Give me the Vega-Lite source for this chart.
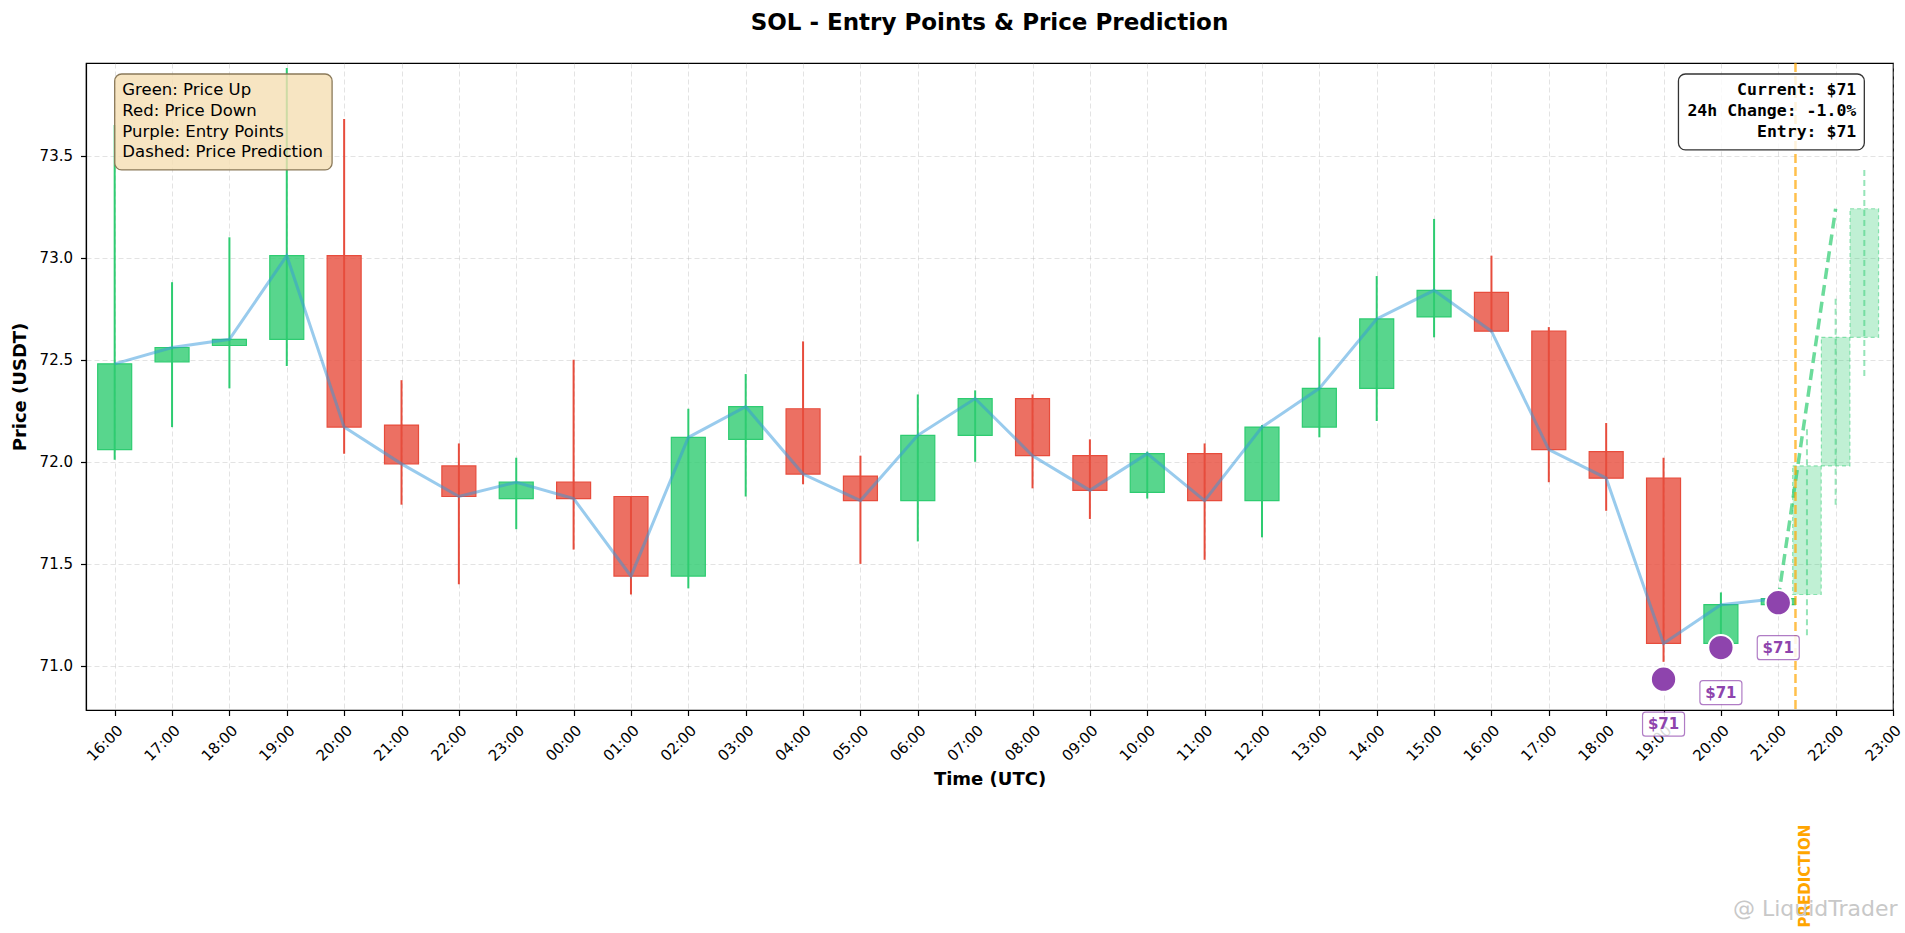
{
  "$schema": "https://vega.github.io/schema/vega-lite/v6.json",
  "description": "SOL hourly candles with entry points and a short price prediction",
  "background": "white",
  "autosize": {"type": "none"},
  "width": 1807,
  "height": 647,
  "padding": {"left": 86, "top": 63, "right": 12, "bottom": 223},
  "title": {
    "text": "SOL - Entry Points & Price Prediction",
    "fontSize": 23,
    "fontWeight": "bold",
    "font": "DejaVu Sans",
    "color": "#000",
    "anchor": "middle",
    "offset": 27
  },
  "datasets": {
    "candles": [
      {"t": 0, "open": 72.06, "high": 73.65, "low": 72.01, "close": 72.48, "dir": "up"},
      {"t": 1, "open": 72.49, "high": 72.88, "low": 72.17, "close": 72.56, "dir": "up"},
      {"t": 2, "open": 72.57, "high": 73.10, "low": 72.36, "close": 72.60, "dir": "up"},
      {"t": 3, "open": 72.60, "high": 73.93, "low": 72.47, "close": 73.01, "dir": "up"},
      {"t": 4, "open": 73.01, "high": 73.68, "low": 72.04, "close": 72.17, "dir": "down"},
      {"t": 5, "open": 72.18, "high": 72.40, "low": 71.79, "close": 71.99, "dir": "down"},
      {"t": 6, "open": 71.98, "high": 72.09, "low": 71.40, "close": 71.83, "dir": "down"},
      {"t": 7, "open": 71.82, "high": 72.02, "low": 71.67, "close": 71.90, "dir": "up"},
      {"t": 8, "open": 71.90, "high": 72.50, "low": 71.57, "close": 71.82, "dir": "down"},
      {"t": 9, "open": 71.83, "high": 71.83, "low": 71.35, "close": 71.44, "dir": "down"},
      {"t": 10, "open": 71.44, "high": 72.26, "low": 71.38, "close": 72.12, "dir": "up"},
      {"t": 11, "open": 72.11, "high": 72.43, "low": 71.83, "close": 72.27, "dir": "up"},
      {"t": 12, "open": 72.26, "high": 72.59, "low": 71.89, "close": 71.94, "dir": "down"},
      {"t": 13, "open": 71.93, "high": 72.03, "low": 71.50, "close": 71.81, "dir": "down"},
      {"t": 14, "open": 71.81, "high": 72.33, "low": 71.61, "close": 72.13, "dir": "up"},
      {"t": 15, "open": 72.13, "high": 72.35, "low": 72.00, "close": 72.31, "dir": "up"},
      {"t": 16, "open": 72.31, "high": 72.33, "low": 71.87, "close": 72.03, "dir": "down"},
      {"t": 17, "open": 72.03, "high": 72.11, "low": 71.72, "close": 71.86, "dir": "down"},
      {"t": 18, "open": 71.85, "high": 72.05, "low": 71.82, "close": 72.04, "dir": "up"},
      {"t": 19, "open": 72.04, "high": 72.09, "low": 71.52, "close": 71.81, "dir": "down"},
      {"t": 20, "open": 71.81, "high": 72.18, "low": 71.63, "close": 72.17, "dir": "up"},
      {"t": 21, "open": 72.17, "high": 72.61, "low": 72.12, "close": 72.36, "dir": "up"},
      {"t": 22, "open": 72.36, "high": 72.91, "low": 72.20, "close": 72.70, "dir": "up"},
      {"t": 23, "open": 72.71, "high": 73.19, "low": 72.61, "close": 72.84, "dir": "up"},
      {"t": 24, "open": 72.83, "high": 73.01, "low": 72.635, "close": 72.64, "dir": "down"},
      {"t": 25, "open": 72.64, "high": 72.66, "low": 71.90, "close": 72.06, "dir": "down"},
      {"t": 26, "open": 72.05, "high": 72.19, "low": 71.76, "close": 71.92, "dir": "down"},
      {"t": 27, "open": 71.92, "high": 72.02, "low": 71.02, "close": 71.11, "dir": "down"},
      {"t": 28, "open": 71.11, "high": 71.36, "low": 71.10, "close": 71.30, "dir": "up"},
      {"t": 29, "open": 71.30, "high": 71.34, "low": 71.29, "close": 71.33, "dir": "up"}
    ],
    "forecast": [
      {"t": 29.5, "open": 71.35, "high": 72.16, "low": 71.15, "close": 71.98},
      {"t": 30.0, "open": 71.98, "high": 72.81, "low": 71.79, "close": 72.61},
      {"t": 30.5, "open": 72.61, "high": 73.43, "low": 72.42, "close": 73.24}
    ],
    "trend": [
      {"t": 29, "price": 71.33},
      {"t": 30, "price": 73.24}
    ],
    "entries": [
      {"t": 27, "price": 70.935, "label": "$71"},
      {"t": 28, "price": 71.09, "label": "$71"},
      {"t": 29, "price": 71.31, "label": "$71"}
    ]
  },
  "layer": [
    {
      "data": {"name": "candles"},
      "mark": {"type": "rule", "strokeWidth": 2},
      "encoding": {
        "x": {
          "field": "t",
          "type": "quantitative",
          "title": "Time (UTC)",
          "scale": {"domain": [-0.5, 31], "nice": false, "zero": false, "padding": 0},
          "axis": {
            "values": [0, 1, 2, 3, 4, 5, 6, 7, 8, 9, 10, 11, 12, 13, 14, 15, 16, 17, 18, 19, 20, 21, 22, 23, 24, 25, 26, 27, 28, 29, 30, 31],
            "labelExpr": "format((datum.value + 16) % 24, '02d') + ':00'",
            "labelAngle": -45,
            "labelAlign": "right",
            "labelBaseline": "top",
            "labelPadding": 7,
            "titlePadding": 7
          }
        },
        "y": {
          "field": "low",
          "type": "quantitative",
          "title": "Price (USDT)",
          "scale": {"domain": [70.784, 73.954], "nice": false, "zero": false, "padding": 0},
          "axis": {
            "values": [71, 71.5, 72, 72.5, 73, 73.5],
            "format": ".1f",
            "labelPadding": 8,
            "titlePadding": 10
          }
        },
        "y2": {"field": "high"},
        "color": {
          "field": "dir",
          "type": "nominal",
          "scale": {"domain": ["up", "down"], "range": ["#2ecc71", "#e74c3c"]},
          "legend": null
        }
      }
    },
    {
      "data": {"name": "candles"},
      "mark": {"type": "bar", "width": 34, "fillOpacity": 0.8, "strokeWidth": 1.2},
      "encoding": {
        "x": {"field": "t", "type": "quantitative", "title": "Time (UTC)", "scale": {"domain": [-0.5, 31], "nice": false, "zero": false, "padding": 0}},
        "y": {"field": "open", "type": "quantitative", "title": "Price (USDT)", "scale": {"domain": [70.784, 73.954], "nice": false, "zero": false, "padding": 0}},
        "y2": {"field": "close"},
        "color": {"field": "dir", "type": "nominal", "legend": null},
        "stroke": {
          "field": "dir",
          "type": "nominal",
          "scale": {"domain": ["up", "down"], "range": ["#2ecc71", "#e74c3c"]},
          "legend": null
        }
      }
    },
    {
      "data": {"name": "forecast"},
      "mark": {"type": "rule", "color": "#2ecc71", "opacity": 0.5, "strokeWidth": 2, "strokeDash": [6, 4]},
      "encoding": {
        "x": {"field": "t", "type": "quantitative", "title": "Time (UTC)", "scale": {"domain": [-0.5, 31], "nice": false, "zero": false, "padding": 0}},
        "y": {"field": "low", "type": "quantitative", "title": "Price (USDT)", "scale": {"domain": [70.784, 73.954], "nice": false, "zero": false, "padding": 0}},
        "y2": {"field": "high"}
      }
    },
    {
      "data": {"name": "forecast"},
      "mark": {
        "type": "bar",
        "width": 28.5,
        "fill": "#2ecc71",
        "fillOpacity": 0.3,
        "stroke": "#2ecc71",
        "strokeOpacity": 0.5,
        "strokeWidth": 1.2,
        "strokeDash": [4, 3]
      },
      "encoding": {
        "x": {"field": "t", "type": "quantitative", "title": "Time (UTC)", "scale": {"domain": [-0.5, 31], "nice": false, "zero": false, "padding": 0}},
        "y": {"field": "open", "type": "quantitative", "title": "Price (USDT)", "scale": {"domain": [70.784, 73.954], "nice": false, "zero": false, "padding": 0}},
        "y2": {"field": "close"}
      }
    },
    {
      "data": {"name": "candles"},
      "mark": {"type": "line", "color": "#3498db", "opacity": 0.5, "strokeWidth": 3},
      "encoding": {
        "x": {"field": "t", "type": "quantitative", "title": "Time (UTC)", "scale": {"domain": [-0.5, 31], "nice": false, "zero": false, "padding": 0}},
        "y": {"field": "close", "type": "quantitative", "title": "Price (USDT)", "scale": {"domain": [70.784, 73.954], "nice": false, "zero": false, "padding": 0}}
      }
    },
    {
      "data": {"name": "trend"},
      "mark": {"type": "line", "color": "#2ecc71", "opacity": 0.7, "strokeWidth": 3.5, "strokeDash": [11, 6]},
      "encoding": {
        "x": {"field": "t", "type": "quantitative", "title": "Time (UTC)", "scale": {"domain": [-0.5, 31], "nice": false, "zero": false, "padding": 0}},
        "y": {"field": "price", "type": "quantitative", "title": "Price (USDT)", "scale": {"domain": [70.784, 73.954], "nice": false, "zero": false, "padding": 0}}
      }
    },
    {
      "data": {"values": [{}]},
      "mark": {"type": "rule", "color": "#ffa500", "opacity": 0.7, "strokeWidth": 2.5, "strokeDash": [9, 4]},
      "encoding": {
        "x": {"datum": 29.3, "type": "quantitative", "title": "Time (UTC)", "scale": {"domain": [-0.5, 31], "nice": false, "zero": false, "padding": 0}}
      }
    },
    {
      "data": {"values": [{}]},
      "mark": {
        "type": "text",
        "text": "PREDICTION",
        "angle": 270,
        "color": "#ffa500",
        "fontWeight": "bold",
        "fontSize": 15,
        "align": "center",
        "baseline": "middle"
      },
      "encoding": {
        "x": {"datum": 29.46, "type": "quantitative", "title": "Time (UTC)", "scale": {"domain": [-0.5, 31], "nice": false, "zero": false, "padding": 0}},
        "y": {"datum": 69.97, "type": "quantitative", "title": "Price (USDT)", "scale": {"domain": [70.784, 73.954], "nice": false, "zero": false, "padding": 0}}
      }
    },
    {
      "data": {"name": "entries"},
      "mark": {"type": "point", "filled": true, "fill": "#8e44ad", "stroke": "white", "strokeWidth": 2, "size": 640, "opacity": 1},
      "encoding": {
        "x": {"field": "t", "type": "quantitative", "title": "Time (UTC)", "scale": {"domain": [-0.5, 31], "nice": false, "zero": false, "padding": 0}},
        "y": {"field": "price", "type": "quantitative", "title": "Price (USDT)", "scale": {"domain": [70.784, 73.954], "nice": false, "zero": false, "padding": 0}}
      }
    },
    {
      "data": {"name": "entries"},
      "mark": {
        "type": "point",
        "shape": "M-1.5,-1 H1.5 Q1.75,-1 1.75,-0.75 V0.75 Q1.75,1 1.5,1 H-1.5 Q-1.75,1 -1.75,0.75 V-0.75 Q-1.75,-1 -1.5,-1 Z",
        "size": 576,
        "filled": true,
        "fill": "white",
        "fillOpacity": 0.85,
        "stroke": "#8e44ad",
        "strokeOpacity": 0.7,
        "strokeWidth": 1.2,
        "opacity": 1,
        "yOffset": 45
      },
      "encoding": {
        "x": {"field": "t", "type": "quantitative", "title": "Time (UTC)", "scale": {"domain": [-0.5, 31], "nice": false, "zero": false, "padding": 0}},
        "y": {"field": "price", "type": "quantitative", "title": "Price (USDT)", "scale": {"domain": [70.784, 73.954], "nice": false, "zero": false, "padding": 0}}
      }
    },
    {
      "data": {"name": "entries"},
      "mark": {
        "type": "text",
        "color": "#8e44ad",
        "fontWeight": "bold",
        "fontSize": 15,
        "align": "center",
        "baseline": "middle",
        "yOffset": 45
      },
      "encoding": {
        "x": {"field": "t", "type": "quantitative", "title": "Time (UTC)", "scale": {"domain": [-0.5, 31], "nice": false, "zero": false, "padding": 0}},
        "y": {"field": "price", "type": "quantitative", "title": "Price (USDT)", "scale": {"domain": [70.784, 73.954], "nice": false, "zero": false, "padding": 0}},
        "text": {"field": "label"}
      }
    },
    {
      "data": {"values": [{}]},
      "mark": {"type": "rect", "fill": "#f5deb3", "fillOpacity": 0.8, "stroke": "#8b7a5a", "strokeWidth": 1.3, "cornerRadius": 7},
      "encoding": {
        "x": {"datum": 0.0, "type": "quantitative", "title": "Time (UTC)", "scale": {"domain": [-0.5, 31], "nice": false, "zero": false, "padding": 0}},
        "x2": {"datum": 3.79},
        "y": {"datum": 73.9, "type": "quantitative", "title": "Price (USDT)", "scale": {"domain": [70.784, 73.954], "nice": false, "zero": false, "padding": 0}},
        "y2": {"datum": 73.43}
      }
    },
    {
      "data": {"values": [{}]},
      "mark": {
        "type": "text",
        "text": ["Green: Price Up", "Red: Price Down", "Purple: Entry Points", "Dashed: Price Prediction"],
        "align": "left",
        "baseline": "top",
        "fontSize": 16.5,
        "lineHeight": 20.7,
        "color": "#000"
      },
      "encoding": {
        "x": {"datum": 0.133, "type": "quantitative", "title": "Time (UTC)", "scale": {"domain": [-0.5, 31], "nice": false, "zero": false, "padding": 0}},
        "y": {"datum": 73.86, "type": "quantitative", "title": "Price (USDT)", "scale": {"domain": [70.784, 73.954], "nice": false, "zero": false, "padding": 0}}
      }
    },
    {
      "data": {"values": [{}]},
      "mark": {"type": "rect", "fill": "white", "fillOpacity": 0.8, "stroke": "#333333", "strokeWidth": 1.3, "cornerRadius": 7},
      "encoding": {
        "x": {"datum": 27.26, "type": "quantitative", "title": "Time (UTC)", "scale": {"domain": [-0.5, 31], "nice": false, "zero": false, "padding": 0}},
        "x2": {"datum": 30.5},
        "y": {"datum": 73.9, "type": "quantitative", "title": "Price (USDT)", "scale": {"domain": [70.784, 73.954], "nice": false, "zero": false, "padding": 0}},
        "y2": {"datum": 73.528}
      }
    },
    {
      "data": {"values": [{}]},
      "mark": {
        "type": "text",
        "text": ["Current: $71", "24h Change: -1.0%", "Entry: $71"],
        "align": "right",
        "baseline": "top",
        "font": "DejaVu Sans Mono",
        "fontWeight": "bold",
        "fontSize": 16.5,
        "lineHeight": 20.7,
        "color": "#000"
      },
      "encoding": {
        "x": {"datum": 30.36, "type": "quantitative", "title": "Time (UTC)", "scale": {"domain": [-0.5, 31], "nice": false, "zero": false, "padding": 0}},
        "y": {"datum": 73.86, "type": "quantitative", "title": "Price (USDT)", "scale": {"domain": [70.784, 73.954], "nice": false, "zero": false, "padding": 0}}
      }
    },
    {
      "data": {"values": [{}]},
      "mark": {
        "type": "text",
        "text": "@ LiquidTrader",
        "align": "right",
        "baseline": "middle",
        "fontSize": 22,
        "color": "#c8c8c8"
      },
      "encoding": {
        "x": {"datum": 31.08, "type": "quantitative", "title": "Time (UTC)", "scale": {"domain": [-0.5, 31], "nice": false, "zero": false, "padding": 0}},
        "y": {"datum": 69.81, "type": "quantitative", "title": "Price (USDT)", "scale": {"domain": [70.784, 73.954], "nice": false, "zero": false, "padding": 0}}
      }
    }
  ],
  "config": {
    "font": "DejaVu Sans",
    "view": {"stroke": "#000", "strokeWidth": 1.2},
    "axis": {
      "labelFont": "DejaVu Sans",
      "labelFontSize": 15,
      "labelColor": "#000",
      "titleFont": "DejaVu Sans",
      "titleFontSize": 18,
      "titleFontWeight": "bold",
      "titleColor": "#000",
      "domainColor": "#000",
      "domainWidth": 1.2,
      "tickColor": "#000",
      "tickWidth": 1.2,
      "tickSize": 5.5,
      "grid": true,
      "gridColor": "#b0b0b0",
      "gridOpacity": 0.35,
      "gridDash": [5, 3],
      "gridWidth": 1
    }
  }
}
